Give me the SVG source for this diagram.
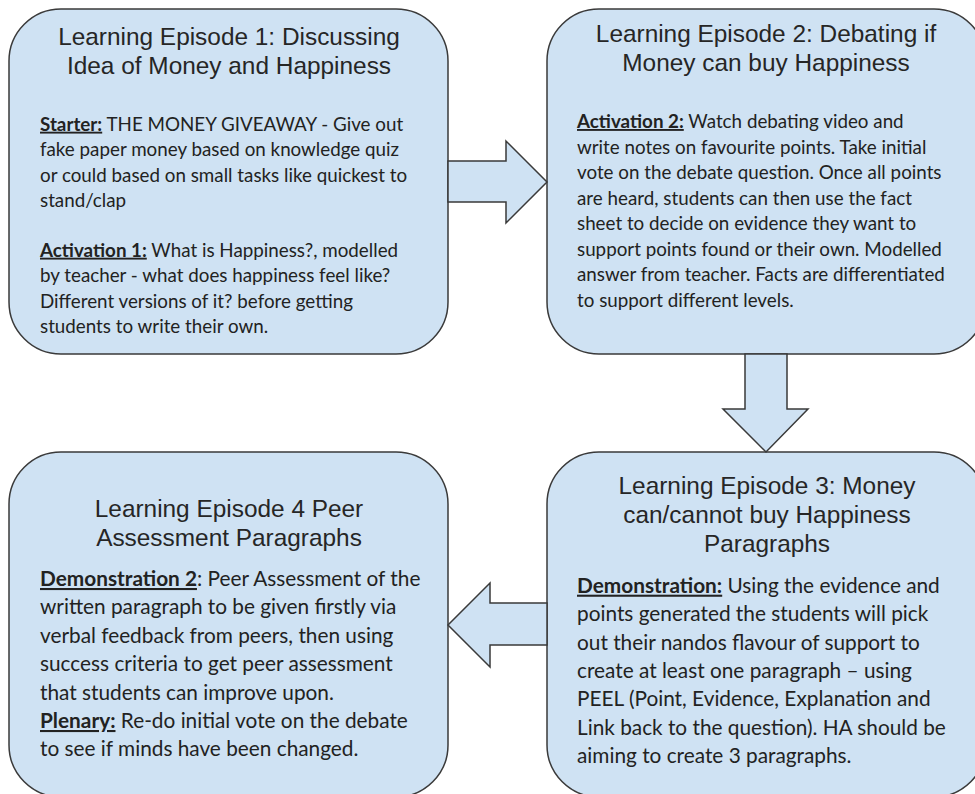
<svg xmlns="http://www.w3.org/2000/svg" width="975" height="794" viewBox="0 0 975 794">
<style>
.box{fill:#cfe2f3;stroke:#3a3a3a;stroke-width:1.5}
.arr{fill:#cfe2f3;stroke:#3a3a3a;stroke-width:1.5;stroke-linejoin:miter}
.title{font-family:"Liberation Sans",Arial,sans-serif;font-size:24.4px;fill:#262626;text-anchor:middle}
.body{font-family:Lato,"Liberation Sans",sans-serif;font-size:18.8px;fill:#222222}
.body2{font-family:Lato,"Liberation Sans",sans-serif;font-size:20.8px;fill:#222222}
.lbl{font-weight:bold;text-decoration:underline}
</style>
<rect width="975" height="794" fill="#ffffff"/>
<g id="episode1">
<rect class="box" x="9" y="9" width="439" height="345" rx="52" ry="52"/>
<text class="title"><tspan x="229" y="45">Learning Episode 1: Discussing</tspan><tspan x="229" y="74">Idea of Money and Happiness</tspan></text>
<text class="body">
<tspan x="40" y="130.7"><tspan class="lbl">Starter:</tspan> THE MONEY GIVEAWAY - Give out</tspan>
<tspan x="40" y="156">fake paper money based on knowledge quiz</tspan>
<tspan x="40" y="181.5">or could based on small tasks like quickest to</tspan>
<tspan x="40" y="206.8">stand/clap</tspan>
<tspan x="40" y="256.7"><tspan class="lbl">Activation 1:</tspan> What is Happiness?, modelled</tspan>
<tspan x="40" y="282">by teacher - what does happiness feel like?</tspan>
<tspan x="40" y="307.5">Different versions of it? before getting</tspan>
<tspan x="40" y="332.8">students to write their own.</tspan>
</text>
</g>
<g id="episode2">
<rect class="box" x="547" y="9" width="439" height="345" rx="52" ry="52"/>
<text class="title"><tspan x="766" y="42">Learning Episode 2: Debating if</tspan><tspan x="766" y="71">Money can buy Happiness</tspan></text>
<text class="body">
<tspan x="577" y="128"><tspan class="lbl">Activation 2:</tspan> Watch debating video and</tspan>
<tspan x="577" y="153.5">write notes on favourite points. Take initial</tspan>
<tspan x="577" y="179">vote on the debate question. Once all points</tspan>
<tspan x="577" y="204.5">are heard, students can then use the fact</tspan>
<tspan x="577" y="230">sheet to decide on evidence they want to</tspan>
<tspan x="577" y="255.5">support points found or their own. Modelled</tspan>
<tspan x="577" y="281">answer from teacher. Facts are differentiated</tspan>
<tspan x="577" y="306.5">to support different levels.</tspan>
</text>
</g>
<g id="episode3">
<rect class="box" x="547" y="452" width="439" height="345" rx="52" ry="52"/>
<text class="title"><tspan x="767" y="494">Learning Episode 3: Money</tspan><tspan x="767" y="523">can/cannot buy Happiness</tspan><tspan x="767" y="552">Paragraphs</tspan></text>
<text class="body2">
<tspan x="577" y="592.7"><tspan class="lbl">Demonstration:</tspan> Using the evidence and</tspan>
<tspan x="577" y="621.1">points generated the students will pick</tspan>
<tspan x="577" y="649.5">out their nandos flavour of support to</tspan>
<tspan x="577" y="677.9">create at least one paragraph – using</tspan>
<tspan x="577" y="706.3">PEEL (Point, Evidence, Explanation and</tspan>
<tspan x="577" y="734.7">Link back to the question). HA should be</tspan>
<tspan x="577" y="763.1">aiming to create 3 paragraphs.</tspan>
</text>
</g>
<g id="episode4">
<rect class="box" x="9" y="452" width="439" height="345" rx="52" ry="52"/>
<text class="title"><tspan x="229" y="517">Learning Episode 4 Peer</tspan><tspan x="229" y="546">Assessment Paragraphs</tspan></text>
<text class="body2">
<tspan x="40" y="586"><tspan class="lbl">Demonstration 2</tspan>: Peer Assessment of the</tspan>
<tspan x="40" y="614.4">written paragraph to be given firstly via</tspan>
<tspan x="40" y="642.8">verbal feedback from peers, then using</tspan>
<tspan x="40" y="671.2">success criteria to get peer assessment</tspan>
<tspan x="40" y="699.6">that students can improve upon.</tspan>
<tspan x="40" y="728"><tspan class="lbl">Plenary:</tspan> Re-do initial vote on the debate</tspan>
<tspan x="40" y="756.4">to see if minds have been changed.</tspan>
</text>
</g>
<g id="connectors">
<polygon class="arr" points="448,161 506,161 506,141 547,182 506,223 506,202 448,202"/>
<polygon class="arr" points="745,354 787,354 787,409 808,409 766,452 723,409 745,409"/>
<polygon class="arr" points="547,603 490,603 490,583 448,625 490,667 490,645 547,645"/>
</g>
</svg>
